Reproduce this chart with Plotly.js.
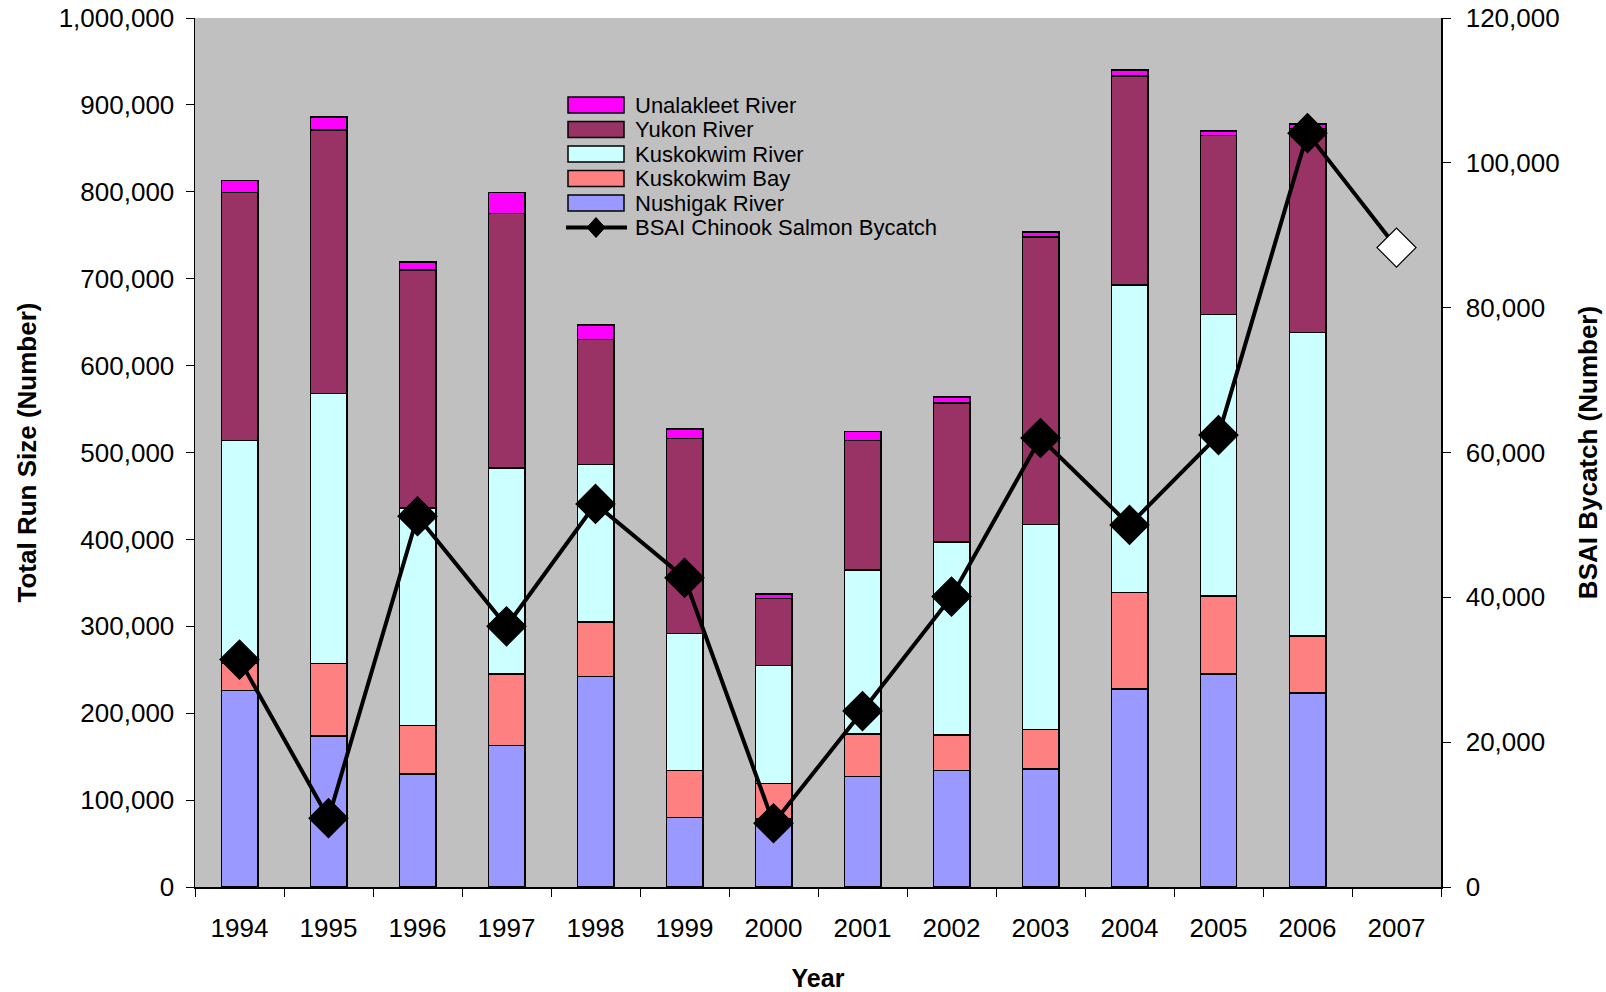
<!DOCTYPE html>
<html><head><meta charset="utf-8">
<script src="https://cdn.plot.ly/plotly-3.0.1.min.js"></script>
<style>html,body{margin:0;padding:0;background:#fff}#chart{width:1606px;height:992px}</style>
</head><body><div id="chart"></div>
<script>
const years = ['1994','1995','1996','1997','1998','1999','2000','2001','2002','2003','2004','2005','2006','2007'];
const barYears = years.slice(0, 13);
const nushigakRiver   = [226000,174000,130000,163000,242000, 80000, 78000,127000,134000,136000,228000,245000,223000];
const kuskokwimBay    = [ 31000, 83000, 56000, 82000, 63000, 54000, 41000, 49000, 41000, 45000,111000, 90000, 66000];
const kuskokwimRiver  = [257000,311000,250000,237000,181000,158000,136000,189000,222000,236000,354000,324000,349000];
const yukonRiver      = [285000,303000,274000,293000,144000,224000, 77000,149000,160000,331000,240000,206000,235000];
const unalakleetRiver = [ 14000, 15000,  9000, 24000, 17000, 11000,  5000, 10000,  7000,  6000,  7000,  5000,  5000];
const bycatch = [31400,9500,51200,36000,52900,42700,8800,24300,40100,62000,50000,62400,104100,88300];
const projectedYear = '2007';

const FONT = 'Liberation Sans, Arial, sans-serif';
const W = 1606, H = 992, M = {l:195, r:165, t:18, b:105};
const PW = W - M.l - M.r, PH = H - M.t - M.b;
const px = x => (x - M.l) / PW;
const py = y => (M.t + PH - y) / PH;

const series = [
  {name:'Nushigak River', y:nushigakRiver, color:'#9999FF'},
  {name:'Kuskokwim Bay', y:kuskokwimBay, color:'#FF8080'},
  {name:'Kuskokwim River', y:kuskokwimRiver, color:'#CCFFFF'},
  {name:'Yukon River', y:yukonRiver, color:'#993366'},
  {name:'Unalakleet River', y:unalakleetRiver, color:'#FF00FF'}
];
const lineName = 'BSAI Chinook Salmon Bycatch';

const traces = series.map(s => ({
  type:'bar', name:s.name, x:barYears, y:s.y, width:0.41,
  marker:{color:s.color, line:{color:'#000', width:1.5}},
  showlegend:false, hoverinfo:'x+y+name'
}));
traces.push({
  type:'scatter', mode:'lines+markers', name:lineName, x:years, y:bycatch, yaxis:'y2',
  line:{color:'#000', width:4},
  marker:{symbol:'diamond', size:30, color:years.map(y => y === projectedYear ? '#FFFFFF' : '#000000'),
          line:{color:'#000', width:1.2}},
  showlegend:false
});

// custom legend (wide swatches, tight spacing as in the original)
const shapes = [], annotations = [];
const legX0 = 568, legX1 = 624, legTextX = 634, legY0 = 105, legStep = 24.5, swH = 16, legFont = 22;
const legendOrder = series.slice().reverse();
legendOrder.forEach((s, i) => {
  const cy = legY0 + i * legStep;
  shapes.push({type:'rect', xref:'paper', yref:'paper', x0:px(legX0), x1:px(legX1), y0:py(cy - swH/2), y1:py(cy + swH/2),
    fillcolor:s.color, line:{color:'#000', width:1.5}});
  annotations.push({xref:'paper', yref:'paper', x:px(legTextX), y:py(cy), xanchor:'left', yanchor:'middle',
    text:s.name, showarrow:false, borderpad:0, font:{family:FONT, size:legFont, color:'#000'}});
});
{
  const cy = legY0 + legendOrder.length * legStep;
  const cx = (legX0 + legX1) / 2;
  shapes.push({type:'line', xref:'paper', yref:'paper', x0:px(legX0 - 2), x1:px(legX1 + 3), y0:py(cy), y1:py(cy),
    line:{color:'#000', width:4}});
  shapes.push({type:'path', xref:'paper', yref:'paper', fillcolor:'#000', line:{color:'#000', width:1},
    path:`M ${px(cx-9)} ${py(cy)} L ${px(cx)} ${py(cy-10)} L ${px(cx+9)} ${py(cy)} L ${px(cx)} ${py(cy+10)} Z`});
  annotations.push({xref:'paper', yref:'paper', x:px(legTextX), y:py(cy), xanchor:'left', yanchor:'middle',
    text:lineName, showarrow:false, borderpad:0, font:{family:FONT, size:legFont, color:'#000'}});
}

const layout = {
  width:W, height:H, margin:M,
  paper_bgcolor:'#FFFFFF', plot_bgcolor:'#C0C0C0',
  barmode:'stack', showlegend:false,
  font:{family:FONT, size:26, color:'#000'},
  xaxis:{type:'category', categoryorder:'array', categoryarray:years, range:[-0.5, 13.5], autorange:false,
    showline:true, linecolor:'#000', linewidth:1.5, ticks:'outside', ticklen:8, tickcolor:'#000',
    tickson:'boundaries', showgrid:false, zeroline:false, ticklabelstandoff:17,
    tickfont:{family:FONT, size:26},
    title:{text:'<b>Year</b>', font:{family:FONT, size:25}, standoff:30}},
  yaxis:{range:[0,1000000], autorange:false, dtick:100000, tickformat:',d',
    showline:true, linecolor:'#000', linewidth:1.5, ticks:'outside', ticklen:8, tickcolor:'#000',
    showgrid:false, zeroline:false, ticklabelstandoff:6,
    tickfont:{family:FONT, size:26},
    title:{text:'<b>Total Run Size (Number)</b>', font:{family:FONT, size:26}, standoff:14}},
  yaxis2:{overlaying:'y', side:'right', range:[0,120000], autorange:false, dtick:20000, tickformat:',d',
    showline:true, linecolor:'#000', linewidth:1.5, ticks:'outside', ticklen:8, tickcolor:'#000',
    showgrid:false, zeroline:false, ticklabelstandoff:10,
    tickfont:{family:FONT, size:26},
    title:{text:'<b>BSAI Bycatch (Number)</b>', font:{family:FONT, size:26}, standoff:20}},
  shapes:shapes, annotations:annotations
};
Plotly.newPlot('chart', traces, layout, {displayModeBar:false, staticPlot:true});
</script></body></html>
